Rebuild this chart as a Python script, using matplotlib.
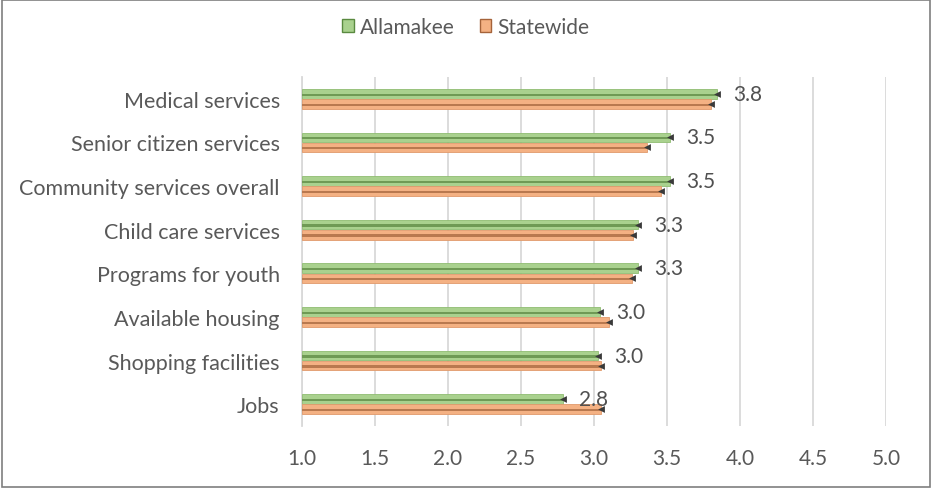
import matplotlib
matplotlib.use("Agg")
import matplotlib.pyplot as plt
import numpy as np
from matplotlib.patches import Rectangle, Patch

categories = ["Medical services", "Senior citizen services", "Community services overall",
              "Child care services", "Programs for youth", "Available housing",
              "Shopping facilities", "Jobs"]
allamakee = [3.84, 3.52, 3.52, 3.30, 3.30, 3.04, 3.03, 2.79]
statewide = [3.80, 3.36, 3.46, 3.27, 3.26, 3.10, 3.05, 3.05]
labels = ["3.8", "3.5", "3.5", "3.3", "3.3", "3.0", "3.0", "2.8"]
xticks = [1.0, 1.5, 2.0, 2.5, 3.0, 3.5, 4.0, 4.5, 5.0]

plt.rcParams['font.family'] = ['Lato', 'DejaVu Sans']
txt = '#595959'
fs = 15

fig = plt.figure(figsize=(9.33, 4.89), dpi=100)
ax = fig.add_axes([302/933, 1-427/489, (886-302)/933, (427-78)/489])

y = np.arange(len(categories))
h = 0.22
off = 0.115
base = 1.0
g_light, g_dark, g_edge = '#a9d18e', '#6f9a55', '#8fbc72'
o_light, o_dark, o_edge = '#f4b183', '#b9794f', '#e09a6c'

for vals, yy, light, dark, edge in [(allamakee, y - off, g_light, g_dark, g_edge),
                                     (statewide, y + off, o_light, o_dark, o_edge)]:
    w = np.array(vals) - base
    ax.barh(yy, w, left=base, height=h, color=light, edgecolor=edge, linewidth=0.6, zorder=3)
    ax.barh(yy + 0.02, w, left=base, height=0.05, color=dark, linewidth=0, zorder=4)
    ax.scatter(vals, yy, marker='<', s=24, color='#3a3a3a', zorder=5, linewidths=0)

for v, yy, lab in zip(allamakee, y - off, labels):
    ax.text(v + 0.11, yy, lab, va='center', ha='left', fontsize=fs, color='#505050', zorder=6)

ax.set_xlim(1.0, 5.0)
ax.set_ylim(len(categories) - 0.5, -0.5)
ax.set_xticks(xticks)
ax.set_xticklabels([f"{t:.1f}" for t in xticks], fontsize=fs, color=txt)
ax.set_yticks(y)
ax.set_yticklabels(categories, fontsize=15.5, color=txt)
ax.tick_params(axis='both', length=0)
ax.tick_params(axis='x', pad=16)
ax.tick_params(axis='y', pad=16)
ax.grid(axis='x', color='#d9d9d9', linewidth=1.3, zorder=0)
ax.set_axisbelow(True)
for s in ['top', 'right', 'bottom']:
    ax.spines[s].set_visible(False)
ax.spines['left'].set_color('#d9d9d9')
ax.spines['left'].set_linewidth(1.3)

handles = [Patch(facecolor=g_light, edgecolor='#5a8a40', label='Allamakee'),
           Patch(facecolor=o_light, edgecolor='#a5633a', label='Statewide')]
fig.legend(handles=handles, loc='center', bbox_to_anchor=(466/933, 1-28/489), ncol=2,
           frameon=False, fontsize=fs, labelcolor=txt, handlelength=0.55, handleheight=0.55,
           handletextpad=0.3, columnspacing=1.2)

fig.patches.append(Rectangle((0.002, 0.003), 0.995, 0.994, transform=fig.transFigure,
                             fill=False, edgecolor='#7f7f7f', linewidth=1.2))

fig.savefig('out.png', dpi=100, facecolor='white')
